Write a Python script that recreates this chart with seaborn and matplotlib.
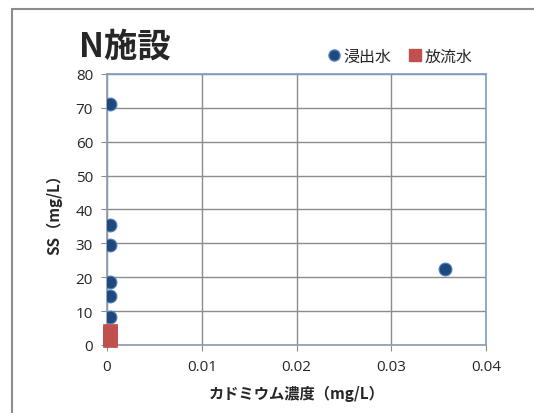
import pandas as pd
import seaborn as sns
import matplotlib.pyplot as plt
from matplotlib.lines import Line2D

# Data
leach_cd = [0.0003, 0.0003, 0.0003, 0.0003, 0.0003, 0.0003, 0.0357]
leach_ss = [71.1, 35.3, 29.5, 18.5, 14.6, 8.3, 22.5]
eff_cd = [0.0003, 0.0003, 0.0003, 0.0003, 0.0003]
eff_ss = [1.6, 2.0, 2.8, 3.4, 4.0]
series_names = ["浸出水", "放流水"]

x_ticks = [0, 0.01, 0.02, 0.03, 0.04]
x_tick_labels = ["0", "0.01", "0.02", "0.03", "0.04"]
y_ticks = list(range(0, 90, 10))

df = pd.DataFrame({
    "Cd": leach_cd + eff_cd,
    "SS": leach_ss + eff_ss,
    "種類": [series_names[0]] * len(leach_cd) + [series_names[1]] * len(eff_cd),
})

sns.set_style("white")
plt.rcParams["font.family"] = ["Noto Sans CJK JP", "DejaVu Sans"]

fig = plt.figure(figsize=(5.34, 4.14), dpi=100)
ax = fig.add_axes([0.2004, 0.1643, 0.7097, 0.6546])

palette = {series_names[0]: "#1F497D", series_names[1]: "#C0504D"}
blue = df[df["種類"] == series_names[0]]
red = df[df["種類"] == series_names[1]]
sns.scatterplot(data=blue, x="Cd", y="SS", marker="o", s=85, color=palette[series_names[0]],
                edgecolor="#4F81BD", linewidth=0.8, ax=ax, legend=False, zorder=3)
sns.scatterplot(data=red, x="Cd", y="SS", marker="s", s=115, color=palette[series_names[1]],
                edgecolor="#C0504D", linewidth=0.5, ax=ax, legend=False, zorder=4,
                clip_on=False)

ax.set_xlim(0, 0.04)
ax.set_ylim(0, 80)
ax.set_xticks(x_ticks)
ax.set_xticklabels(x_tick_labels)
ax.set_yticks(y_ticks)
ax.grid(True, color="#8C8C8C", linewidth=1.0)
ax.set_axisbelow(True)
ax.tick_params(axis="both", labelsize=11, length=4, color="#8C8C8C", direction="out",
               left=True, bottom=True, pad=6)
for lab in ax.get_xticklabels() + ax.get_yticklabels():
    lab.set_family(["Open Sans", "DejaVu Sans"])
for side in ["left", "bottom"]:
    ax.spines[side].set_color("#8C9BB0")
    ax.spines[side].set_linewidth(1.2)
for side in ["right", "top"]:
    ax.spines[side].set_color("#7A9CCB")
    ax.spines[side].set_linewidth(1.2)

ax.set_xlabel("カドミウム濃度（mg/L）", fontsize=11, fontweight="bold", labelpad=8)
ax.set_ylabel("SS（mg/L）", fontsize=11, fontweight="bold", labelpad=10)

fig.text(0.148, 0.886, "N施設", fontsize=24, fontweight="bold", va="center", ha="left")

handles = [
    Line2D([], [], marker="o", linestyle="", markersize=8, markerfacecolor="#1F497D",
           markeredgecolor="#4F81BD", label=series_names[0]),
    Line2D([], [], marker="s", linestyle="", markersize=9, markerfacecolor="#C0504D",
           markeredgecolor="#C0504D", label=series_names[1]),
]
fig.legend(handles=handles, loc="center left", bbox_to_anchor=(0.598, 0.862), ncol=2,
           frameon=False, fontsize=11.5, handletextpad=0.1, columnspacing=1.0,
           handlelength=1.0, borderaxespad=0)

# outer chart border
fig.add_artist(Line2D([12 / 534, 12 / 534], [0, 1 - 10 / 414], transform=fig.transFigure,
                      color="#8C8C8C", linewidth=1.5))
fig.add_artist(Line2D([12 / 534, 1], [1 - 10 / 414, 1 - 10 / 414], transform=fig.transFigure,
                      color="#8C8C8C", linewidth=1.5))

fig.savefig("out.png", dpi=100)
